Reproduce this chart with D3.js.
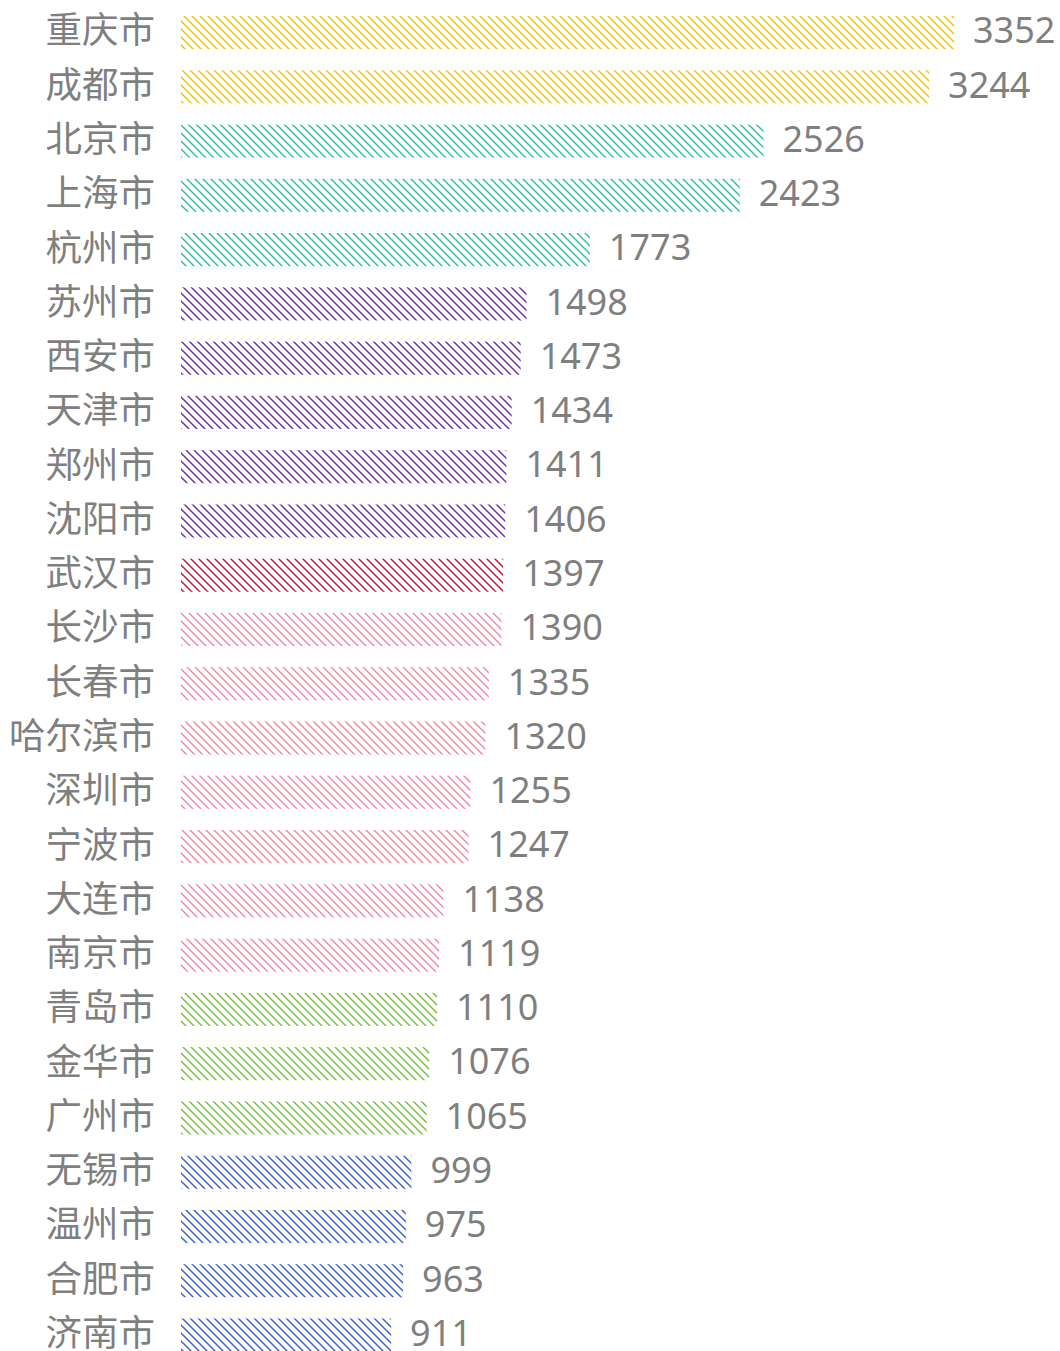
<!DOCTYPE html>
<html><head><meta charset="utf-8">
<script src="https://cdn.jsdelivr.net/npm/d3@7"></script>
<style>body{margin:0;background:#fff;} svg{display:block;}</style>
</head><body>
<svg id="chart" width="1060" height="1351"></svg>
<script>
const cities = ["重庆市","成都市","北京市","上海市","杭州市","苏州市","西安市","天津市","郑州市","沈阳市","武汉市","长沙市","长春市","哈尔滨市","深圳市","宁波市","大连市","南京市","青岛市","金华市","广州市","无锡市","温州市","合肥市","济南市"];
const values = [3352,3244,2526,2423,1773,1498,1473,1434,1411,1406,1397,1390,1335,1320,1255,1247,1138,1119,1110,1076,1065,999,975,963,911];
const groups = [0,0,1,1,1,2,2,2,2,2,3,4,4,4,4,4,4,4,5,5,5,6,6,6,6];
const palette = ["#f0c010","#2ec4a0","#7030a8","#c8143c","#f08aa4","#78c040","#3f62d0"];

const svg = d3.select("#chart");
const left = 181, right = 954;
const x = d3.scaleLinear().domain([0, 3352]).range([left, right]);
const y = d3.scaleBand().domain(cities).range([5.4, 5.4 + 25*54.27]).paddingInner(0.39).paddingOuter(0.195);

const defs = svg.append("defs");
palette.forEach((c,i)=>{
  const p = defs.append("pattern").attr("id","hatch"+i)
    .attr("patternUnits","userSpaceOnUse").attr("width",8).attr("height",8);
  p.append("path").attr("d","M-2,-2 L10,10 M-2,6 L2,10 M6,-2 L10,2")
    .attr("stroke",c).attr("stroke-width",1.5).attr("fill","none");
});

svg.selectAll("rect.bar").data(values).join("rect").attr("class","bar")
  .attr("x", left)
  .attr("y", (d,i)=>y(cities[i]))
  .attr("width", d=>x(d)-left)
  .attr("height", y.bandwidth())
  .attr("fill",(d,i)=>`url(#hatch${groups[i]})`);

svg.selectAll("text.cat").data(cities).join("text").attr("class","cat")
  .attr("x", 155)
  .attr("y", d=>y(d)+y.bandwidth()/2)
  .attr("dy","0.3em")
  .attr("text-anchor","end")
  .attr("font-family","'Noto Sans CJK SC', 'Noto Sans', sans-serif")
  .attr("font-size",36.5)
  .attr("fill","#7f7f7f")
  .text(d=>d);

svg.selectAll("text.val").data(values).join("text").attr("class","val")
  .attr("x", d=>x(d)+19)
  .attr("y", (d,i)=>y(cities[i])+y.bandwidth()/2)
  .attr("dy","0.3em")
  .attr("font-family","'Noto Sans', 'Noto Sans CJK SC', sans-serif")
  .attr("font-size",36)
  .attr("fill","#7f7f7f")
  .text(d=>d);
</script>
</body></html>
